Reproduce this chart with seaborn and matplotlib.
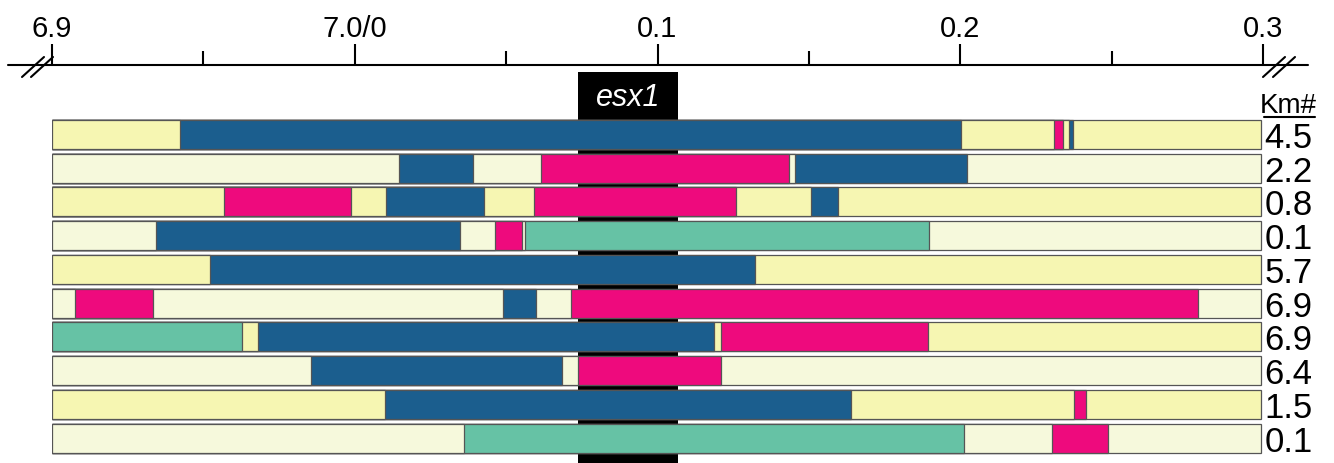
import numpy as np
import pandas as pd
from matplotlib import pyplot as plt
from matplotlib.lines import Line2D
import seaborn as sns

# colour keys
colors = {'A': '#f6f6b2', 'B': '#f6f9dc', 'D': '#1b5e8e', 'M': '#ee0a7d', 'T': '#66c2a5'}

# rows top to bottom, Km# value shown on the right
rows = ['r1', 'r2', 'r3', 'r4', 'r5', 'r6', 'r7', 'r8', 'r9', 'r10']
km = ['4.5', '2.2', '0.8', '0.1', '5.7', '6.9', '6.9', '6.4', '1.5', '0.1']

# segment right ends (kb from the 6.9 end) and segment colours, per row
ends_1 = [42.3, 300.2, 331.0, 333.9, 335.9, 337.2, 399.3]
keys_1 = ['A', 'D', 'A', 'M', 'A', 'D', 'A']
ends_2 = [114.6, 139.1, 161.5, 243.4, 245.4, 302.2, 399.3]
keys_2 = ['B', 'D', 'B', 'M', 'B', 'D', 'B']
ends_3 = [56.8, 98.9, 110.3, 142.7, 159.2, 225.8, 250.7, 259.6, 399.3]
keys_3 = ['A', 'M', 'A', 'D', 'A', 'M', 'A', 'D', 'A']
ends_4 = [34.4, 134.6, 146.3, 155.2, 156.2, 289.7, 399.3]
keys_4 = ['B', 'D', 'B', 'M', 'B', 'T', 'B']
ends_5 = [52.2, 232.2, 399.3]
keys_5 = ['A', 'D', 'A']
ends_6 = [7.6, 33.2, 149.0, 159.9, 171.4, 378.5, 399.3]
keys_6 = ['B', 'M', 'B', 'D', 'B', 'M', 'B']
ends_7 = [62.8, 68.0, 218.7, 221.0, 289.3, 399.3]
keys_7 = ['T', 'A', 'D', 'A', 'M', 'A']
ends_8 = [85.5, 168.5, 173.6, 221.0, 399.3]
keys_8 = ['B', 'D', 'B', 'M', 'B']
ends_9 = [110.0, 263.9, 337.6, 341.5, 399.3]
keys_9 = ['A', 'D', 'A', 'M', 'A']
ends_10 = [136.1, 301.2, 330.3, 348.8, 399.3]
keys_10 = ['B', 'T', 'B', 'M', 'B']

all_ends = [ends_1, ends_2, ends_3, ends_4, ends_5, ends_6, ends_7, ends_8, ends_9, ends_10]
all_keys = [keys_1, keys_2, keys_3, keys_4, keys_5, keys_6, keys_7, keys_8, keys_9, keys_10]

xticks = [0, 100, 200, 300, 400]
xticklabels = ['6.9', '7.0/0', '0.1', '0.2', '0.3']
minor_ticks = [50, 150, 250, 350]
gene = 'esx1'
gene_start, gene_end = 173.7, 206.8

recs = []
for r, ends, keys in zip(rows, all_ends, all_keys):
    for i, (e, k) in enumerate(zip(ends, keys)):
        recs.append({'row': r, 'end': e, 'key': k, 'layer': i})
df = pd.DataFrame(recs)

sns.set_style("white")
plt.rcParams['font.family'] = ['Liberation Sans', 'DejaVu Sans']
plt.rcParams['text.color'] = 'black'
plt.rcParams['xtick.color'] = 'black'

W, H = 1334, 463
fig = plt.figure(figsize=(W / 100, H / 100), dpi=100)
ax = fig.add_axes([52 / W, 0, 1211 / W, 398 / H])

# gene band behind the bars
ax.axvspan(gene_start, gene_end, ymin=0, ymax=1 - 7 / 398, color='black', zorder=0.5, lw=0)

# stacked segments: draw cumulative bars from the outermost layer inwards
for k in sorted(df['layer'].unique(), reverse=True):
    sub = df[df['layer'] == k]
    sns.barplot(data=sub, x='end', y='row', order=rows, hue='key', palette=colors,
                orient='h', dodge=False, width=0.86, errorbar=None, legend=False,
                saturation=1, edgecolor='#555555', linewidth=0.9, ax=ax)

ax.set_xlim(0, 400)
ax.set_ylim(9.74, -2.06)
ax.set_xlabel('')
ax.set_ylabel('')
ax.set_yticks([])
for s in ax.spines.values():
    s.set_visible(False)

ax.xaxis.tick_top()
ax.set_xticks(xticks)
ax.set_xticklabels(xticklabels)
ax.set_xticks(minor_ticks, minor=True)
ax.tick_params(axis='x', which='major', length=15, width=1.5, pad=1, labelsize=21,
               color='black', labelcolor='black')
ax.tick_params(axis='x', which='minor', length=10, width=1.5, color='black')

ax.text((gene_start + gene_end) / 2, -0.84, gene, color='white', style='italic',
        fontsize=22, ha='center', va='baseline', zorder=3)

# right labels
ax.text(399.0, -0.64, 'Km#', fontsize=20, ha='left', va='baseline', clip_on=False)
ax.plot([400.3, 417.2], [-0.52, -0.52], color='black', lw=1.5, clip_on=False)
for i, lbl in enumerate(km):
    ax.text(400.5, i + 0.40, lbl, fontsize=25, ha='left', va='baseline', clip_on=False)

# axis line with break marks
yl = 1 - 65 / H
fig.add_artist(Line2D([8 / W, 1308 / W], [yl, yl], color='black', lw=1.5))
for x0 in (22, 31, 1263, 1273):
    fig.add_artist(Line2D([x0 / W, (x0 + 22) / W], [1 - 77 / H, 1 - 57 / H], color='black', lw=1.5))

fig.savefig('out.png', dpi=100)
